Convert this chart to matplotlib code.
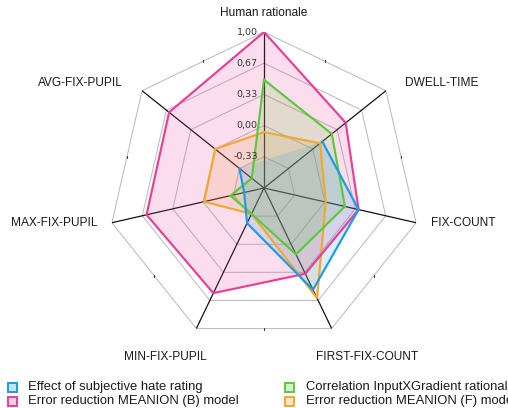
import numpy as np
import matplotlib
matplotlib.use("Agg")
import matplotlib.pyplot as plt
from matplotlib.patches import Rectangle

categories = ["Human rationale", "DWELL-TIME", "FIX-COUNT", "FIRST-FIX-COUNT",
              "MIN-FIX-PUPIL", "MAX-FIX-PUPIL", "AVG-FIX-PUPIL"]
series_names = ["Effect of subjective hate rating",
                "Correlation InputXGradient rationale",
                "Error reduction MEANION (B) model",
                "Error reduction MEANION (F) model"]
effect_hate = [-0.67, 0.13, 0.37, 0.54, -0.25, -0.45, -0.33]
corr_ixg = [0.49, 0.26, 0.22, 0.12, -0.36, -0.30, -0.50]
err_b = [1.00, 0.45, 0.37, 0.35, 0.58, 0.62, 0.63]
err_f = [-0.07, 0.10, 0.01, 0.64, -0.36, -0.01, 0.00]
tick_values = [-0.333, 0.0, 0.333, 0.667, 1.0]
tick_labels = ["-0,33", "0,00", "0,33", "0,67", "1,00"]
r_min, r_max = -0.667, 1.0

line_colors = ["#1a9be8", "#5cc83c", "#ea3d96", "#f0a830"]
series = [effect_hate, corr_ixg, err_b, err_f]

W, H = 508, 408
fig = plt.figure(figsize=(W / 100, H / 100), dpi=100)
cx, cy, R = 264, 188, 156
ax = fig.add_axes([(cx - R) / W, 1 - (cy + R) / H, 2 * R / W, 2 * R / H],
                  projection="polar")
ax.set_theta_zero_location("N")
ax.set_theta_direction(-1)
ax.set_ylim(r_min, r_max)
ax.grid(False)
ax.spines["polar"].set_visible(False)
ax.set_xticks([])
ax.set_yticks([])
ax.patch.set_alpha(0)

n = len(categories)
theta = np.arange(n) * 2 * np.pi / n
theta_c = np.append(theta, theta[0])

# heptagon grid rings
for tv in tick_values:
    ax.plot(theta_c, [tv] * (n + 1), color="#bdbdbd", lw=0.75, zorder=1)
# spokes
for t in theta:
    ax.plot([t, t], [r_min, r_max], color="#111111", lw=0.9, zorder=2)
# small marks at the middle of the outer edges
mid_r = r_min + (r_max - r_min) * np.cos(np.pi / n)
ax.plot(theta + np.pi / n, [mid_r] * n, ls="none", marker="s", ms=0.9,
        mew=0, color="#444444", zorder=2)

# draw datasets in reverse order (first dataset on top)
for i in reversed(range(len(series))):
    vals = list(series[i]) + [series[i][0]]
    ax.fill(theta_c, vals, color=line_colors[i], alpha=0.17, lw=0, zorder=3)
for i in reversed(range(len(series))):
    vals = list(series[i]) + [series[i][0]]
    ax.plot(theta_c, vals, color=line_colors[i], lw=1.55,
            solid_joinstyle="miter", zorder=4 + (len(series) - i))

# tick labels
for tv, tl in zip(tick_values, tick_labels):
    ax.annotate(tl, xy=(0, tv), xytext=(-4.5, 0), textcoords="offset points",
                ha="right", va="center", fontsize=6.8, color="#333333", zorder=10)

# category labels (pixel positions in figure)
label_pos = [(264, 13, "center"), (405, 83, "left"), (431, 223, "left"),
             (367, 357, "center"), (165, 357, "center"), (97, 223, "right"),
             (123, 83, "right")]
for name, (px, py, ha) in zip(categories, label_pos):
    fig.text(px / W, 1 - py / H, name, ha=ha, va="center", fontsize=8.6,
             family="Liberation Sans", color="#1a1a1a")

# legend
leg_pos = [(7.5, 387), (285, 387), (7.5, 401), (285, 401)]
for name, col, (px, py) in zip(series_names, line_colors, leg_pos):
    fig.patches.append(Rectangle(((px) / W, 1 - (py + 4.5) / H), 9 / W, 9 / H,
                                 transform=fig.transFigure, facecolor=col,
                                 alpha=0.25, lw=0))
    fig.patches.append(Rectangle(((px) / W, 1 - (py + 4.5) / H), 9 / W, 9 / H,
                                 transform=fig.transFigure, facecolor="none",
                                 edgecolor=col, lw=1.4))
    fig.text((px + 20.5) / W, 1 - py / H, name, ha="left", va="center",
             fontsize=9.4, family="Liberation Sans", color="#1a1a1a")

fig.savefig("out.png", dpi=100)
